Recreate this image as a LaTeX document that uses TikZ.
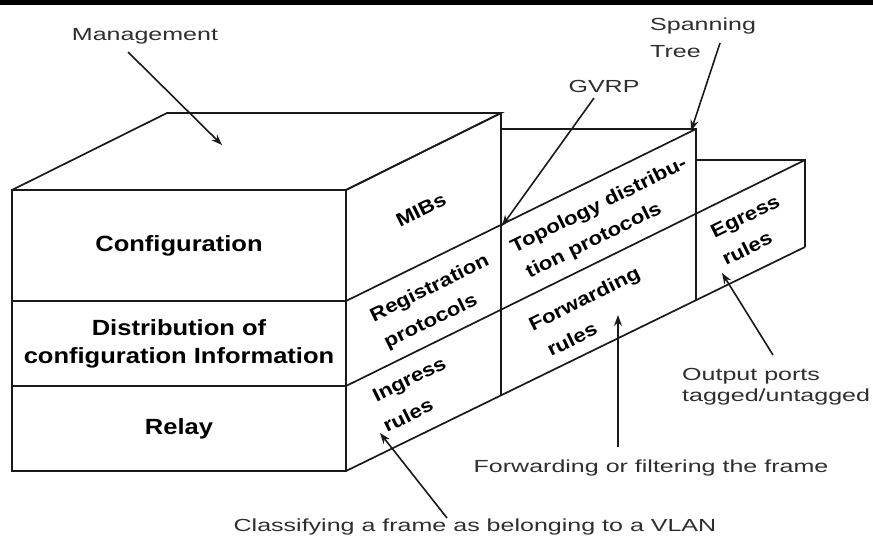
\documentclass[tikz,border=0pt]{standalone}
\usepackage{fontspec}
\setmainfont{Liberation Sans}
\newfontfamily\facefont[FakeStretch=1.16]{Liberation Sans}
\newfontfamily\sidefont[FakeStretch=1.17]{Liberation Sans}
\newfontfamily\notefont[FakeStretch=1.43]{Liberation Sans}
\usetikzlibrary{arrows.meta}
\definecolor{ink}{HTML}{1A1A1A}
\definecolor{notegray}{HTML}{2E2E2E}
\begin{document}
\begin{tikzpicture}[x=1pt,y=-1pt,
  edge/.style={draw=ink,line width=1.7pt,line join=miter},
  facelabel/.style={inner sep=0pt,align=center,font=\facefont\bfseries\fontsize{22}{28}\selectfont},
  sidelabel/.style={inner sep=0pt,rotate=26.2,font=\sidefont\bfseries\fontsize{19}{23}\selectfont},
  note/.style={inner sep=0pt,anchor=base,text=notegray,font=\notefont\fontsize{17.5}{21}\selectfont},
  pointer/.style={draw=ink,line width=1.6pt,-{Stealth[length=11pt,width=8pt]}}]
\useasboundingbox (0,0) rectangle (873,547);
% heavy rule across the top
\fill[black] (0,0) rectangle (873,4.5);

% front block: front face with its three layers
\draw[edge] (12,190) rectangle (346,471);
\draw[edge] (12,301) -- (346,301);
\draw[edge] (12,386) -- (346,386);
% top face
\draw[edge] (12,190) -- (167,113) -- (501,113) -- (346,190);
% receding layer lines on the side
\draw[edge] (346,190) -- (501,113);
\draw[edge] (346,301) -- (696,129);
\draw[edge] (346,386) -- (805,160);
\draw[edge] (346,471) -- (805,247);
% back edges of the stepped blocks
\draw[edge] (501,113) -- (501,395);
\draw[edge] (501,129) -- (696,129) -- (696,300);
\draw[edge] (696,160) -- (805,160) -- (805,247);

% layer names on the front face
\node[facelabel] (cfg) at (179,245.5) {Configuration};
\node[facelabel] (dist) at (179,343.5) {Distribution of\\configuration Information};
\node[facelabel] (relay) at (179,428.5) {Relay};

% labels on the side faces
\node[sidelabel] (mibs) at (421,210) {MIBs};
\node[sidelabel] (reg1) at (430,289) {Registration};
\node[sidelabel] (reg2) at (431,322) {protocols};
\node[sidelabel] (ing1) at (410,381) {Ingress};
\node[sidelabel] (ing2) at (408,415) {rules};
\node[sidelabel] (top1) at (599,206) {Topology distribu-};
\node[sidelabel] (top2) at (594,241) {tion protocols};
\node[sidelabel] (fwd1) at (585,300) {Forwarding};
\node[sidelabel] (fwd2) at (572,339) {rules};
\node[sidelabel] (egr1) at (746,218) {Egress};
\node[sidelabel] (egr2) at (747,248) {rules};

% annotations
\node[note] (mgmt) at (145,40) {Management};
\node[note] (gvrp) at (604,92) {GVRP};
\node[note,anchor=base west] (span1) at (650,30) {Spanning};
\node[note,anchor=base west] (span2) at (650,57) {Tree};
\node[note,anchor=base west] (out1) at (682,380) {Output ports};
\node[note,anchor=base west] (out2) at (682,401) {tagged/untagged};
\node[note] (fwdnote) at (651,472) {Forwarding or filtering the frame};
\node[note] (classnote) at (475,531) {Classifying a frame as belonging to a VLAN};

% pointer ends
\coordinate (mgmtA) at (128,52);   \coordinate (mgmtB) at (222,145);
\coordinate (gvrpA) at (594,98);   \coordinate (gvrpB) at (502,226);
\coordinate (spanA) at (720,43);   \coordinate (spanB) at (691,131);
\coordinate (outA) at (773,355);   \coordinate (outB) at (722,273);
\coordinate (fwdA) at (618,447);   \coordinate (fwdB) at (618,315);
\coordinate (clsA) at (447,518);   \coordinate (clsB) at (380,433);

\draw[pointer] (mgmtA) -- (mgmtB);
\draw[pointer] (gvrpA) -- (gvrpB);
\draw[pointer] (spanA) -- (spanB);
\draw[pointer] (outA) -- (outB);
\draw[pointer] (fwdA) -- (fwdB);
\draw[pointer] (clsA) -- (clsB);
\end{tikzpicture}
\end{document}
